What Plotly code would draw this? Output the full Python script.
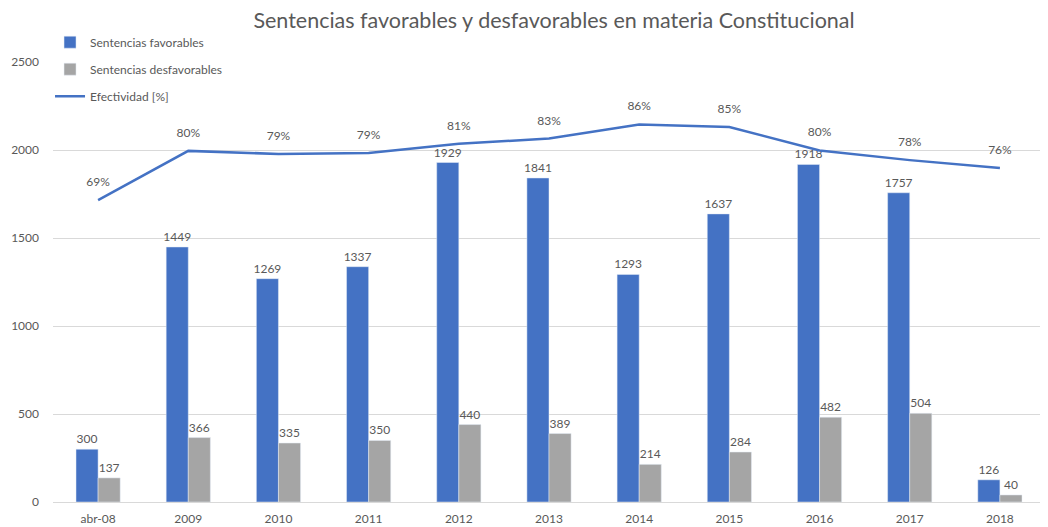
import plotly.graph_objects as go

# datos
years = ["abr-08", "2009", "2010", "2011", "2012", "2013", "2014", "2015", "2016", "2017", "2018"]
favorables = [300, 1449, 1269, 1337, 1929, 1841, 1293, 1637, 1918, 1757, 126]
desfavorables = [137, 366, 335, 350, 440, 389, 214, 284, 482, 504, 40]
efectividad = [68.6, 79.8, 79.1, 79.3, 81.4, 82.6, 85.8, 85.2, 79.9, 77.7, 75.9]
efect_labels = ["69%", "80%", "79%", "79%", "81%", "83%", "86%", "85%", "80%", "78%", "76%"]

FONT = "Lato"
GRAY_TXT = "#595959"

fig = go.Figure()

fig.add_trace(go.Bar(
    x=years, y=favorables, name="Sentencias favorables",
    marker_color="#4472C4", text=favorables, textposition="outside",
    textfont=dict(size=12, color=GRAY_TXT), cliponaxis=False,
    constraintext="none", legendgroup="a",
))
fig.add_trace(go.Bar(
    x=years, y=desfavorables, name="Sentencias desfavorables",
    marker_color="#A5A5A5", text=desfavorables, textposition="outside",
    textfont=dict(size=12, color=GRAY_TXT), cliponaxis=False,
    constraintext="none", legendgroup="b",
))
fig.add_trace(go.Scatter(
    x=years, y=efectividad, name="Efectividad [%]", yaxis="y2",
    mode="lines+markers+text", line=dict(color="#4472C4", width=2.5),
    marker=dict(size=16, color="rgba(0,0,0,0)"),
    text=efect_labels, textposition="top center",
    textfont=dict(size=12, color=GRAY_TXT), cliponaxis=False,
    legendgroup="c",
))

# la pagina tiene 8px de margen en el body, por eso 1040x519
fig.update_layout(
    width=1040, height=519,
    margin=dict(l=45, r=3, t=54, b=25, autoexpand=False),
    paper_bgcolor="white", plot_bgcolor="white",
    font=dict(family=FONT, color=GRAY_TXT, size=12),
    title=dict(text="Sentencias favorables y desfavorables en materia Constitucional",
               x=0.525, xanchor="center", yref="container", y=0.976, yanchor="middle",
               font=dict(size=21.5, color=GRAY_TXT, family=FONT)),
    barmode="group", bargap=0.51, bargroupgap=0,
    showlegend=True,
    legend=dict(x=-0.003, y=1.078, xanchor="left", yanchor="top",
                orientation="v", traceorder="grouped", tracegroupgap=8,
                font=dict(size=12, color=GRAY_TXT), bgcolor="rgba(0,0,0,0)"),
    xaxis=dict(range=[-0.5, len(years) - 0.5], showgrid=False, showline=True,
               linecolor="#d9d9d9", automargin=False,
               tickfont=dict(size=12, color=GRAY_TXT), ticks="", ticklabelstandoff=6),
    yaxis=dict(range=[0, 2500], dtick=500, gridcolor="#d9d9d9", zeroline=False,
               showline=False, automargin=False, tickfont=dict(size=12, color=GRAY_TXT),
               ticks="", ticklabelstandoff=13),
    yaxis2=dict(range=[0, 100], overlaying="y", side="right", visible=False),
)

fig.write_html("out.html")
